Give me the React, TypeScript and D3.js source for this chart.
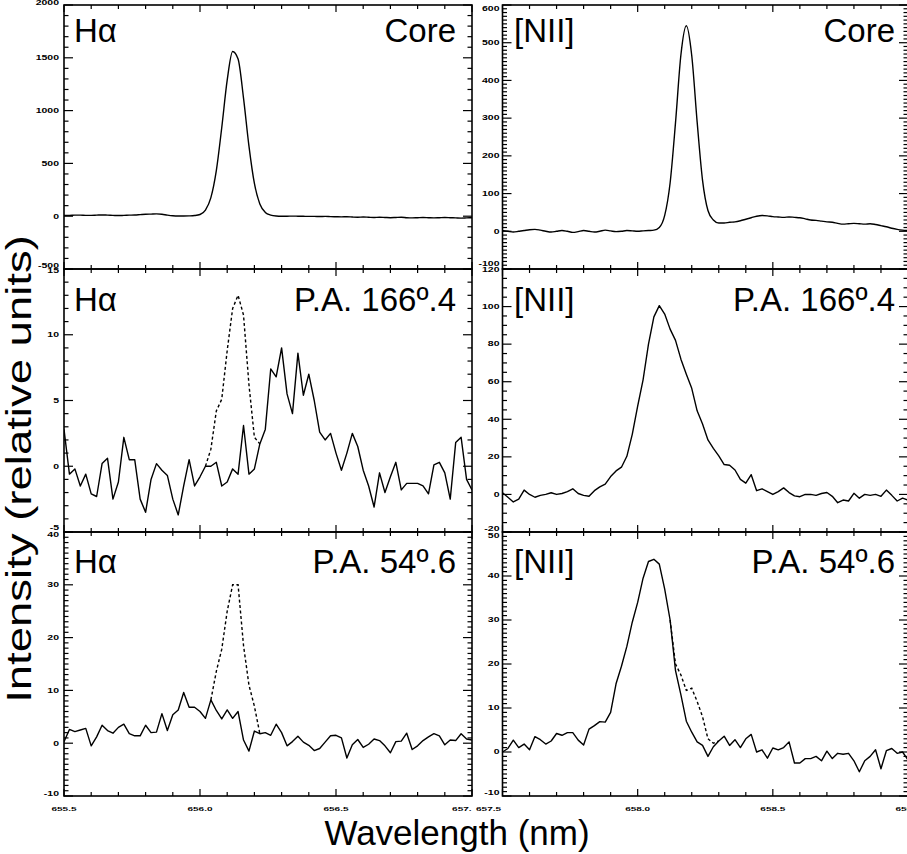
import React from "react";
import * as d3 from "d3";

// ---------------- DATA ----------------
const wlStep = 0.02;
const haWlStart = 655.5;
const niiWlStart = 657.5;

const haCore = [
  8, 8, 10, 10, 8, 8, 10, 12, 10, 8,
  6, 8, 10, 12, 15, 18, 20, 22, 18, 10,
  4, 2, 2, 3, 6, 16, 58, 176, 432, 840,
  1288, 1560, 1488, 1118, 664, 310, 116, 36, 10, 2,
  0, 0, 1, 0, -1, -2, -2, -3, -2, -4,
  -5, -6, -5, -8, -10, -8, -10, -12, -10, -12,
  -14, -12, -10, -14, -16, -14, -12, -14, -16, -14,
  -12, -14, -16, -18, -16, -14,
];

const haPA166 = [
  2.8, -0.6, -0.2, -1.5, -0.6, -2.1, -2.3, 0.2, 0.6, -2.5,
  -1.2, 2.2, 0.5, 0.5, -2.5, -3.5, -1.0, 0.2, -0.3, -0.7,
  -2.5, -3.7, -1.5, 0.5, -1.5, -0.8, 0.0, 0.0, 0.3, -1.5,
  -1.2, -0.2, -0.6, 3.1, -0.6, -0.2, 1.7, 2.8, 7.4, 6.8,
  9.0, 5.5, 4.0, 8.6, 5.4, 7.0, 5.0, 2.6, 2.0, 2.5,
  1.0, -0.3, 1.0, 2.5, 1.5, -0.3, -1.5, -3.1, -0.5, -2.0,
  -0.8, 0.3, -1.8, -1.3, -1.3, -1.3, -1.5, -2.1, 0.1, 0.3,
  -0.5, -2.5, 1.8, 2.2, -1.0, -1.8,
];
const haPA166DashStart = 656.02;
const haPA166Dash = [0.0, 1.3, 4.2, 5.1, 8.8, 12.0, 13.0, 11.5, 6.2, 2.2, 1.7];

const haPA54 = [
  0.3, 2.6, 2.2, 2.5, 2.8, -0.5, 1.2, 3.4, 2.4, 1.9,
  3.0, 3.6, 1.8, 1.4, 1.4, 3.4, 2.0, 2.1, 5.6, 2.4,
  5.4, 6.3, 9.6, 6.8, 6.8, 6.0, 4.7, 8.2, 6.2, 4.6,
  6.3, 4.7, 6.0, 0.6, -1.5, 2.3, 1.8, 2.0, 1.5, 3.6,
  2.0, -0.5, 0.3, 1.3, 0.2, -0.4, -1.4, -1.0, 0.2, 1.4,
  1.5, 1.0, -2.8, -0.3, 0.7, -0.8, -0.2, 0.8, 0.5, -0.5,
  -1.8, 0.3, 0.4, 1.9, -1.2, -0.5, 0.5, 1.2, 1.8, 1.4,
  -0.3, 0.6, 0.5, 1.8, 0.8, 0.6,
];
const haPA54DashStart = 656.04;
const haPA54Dash = [8.2, 13.6, 17.8, 25.0, 30.0, 30.0, 18.5, 11.0, 7.0, 1.8];

const niiCore = [
  2, 0, -2, 0, 2, 4, 5, 3, 0, -2,
  0, 2, 0, -3, -1, 2, 0, -2, 0, 3,
  1, -1, 0, 2, 1, 0, 1, 2, 3, 10,
  42, 128, 288, 468, 545, 466, 290, 135, 55, 30,
  22, 22, 24, 25, 28, 32, 36, 40, 42, 41,
  39, 38, 37, 38, 37, 36, 33, 30, 29, 27,
  25, 24, 21, 19, 20, 21, 20, 19, 20, 18,
  15, 12, 8, 5, 3, 2,
];

const niiPA166 = [
  0.9, -1.5, -4.0, -2.5, 2.3, 0.0, -1.5, -0.5, 0.0, 0.9,
  0.0, 0.5, 1.5, 3.0, 0.5, -0.5, -1.0, 2.0, 4.0, 5.5,
  9.5, 12.5, 14.5, 20.3, 32.0, 47.0, 61.0, 80.0, 94.5, 100.5,
  96.0, 88.0, 82.0, 72.0, 64.0, 56.5, 44.5, 37.5, 29.0, 24.5,
  20.5, 15.9, 15.5, 13.0, 8.0, 6.0, 10.5, 2.0, 3.0, 1.5,
  0.0, 1.5, 3.5, 1.0, -0.8, -1.2, 0.0, 0.0, -0.5, 0.5,
  1.0, -1.0, -4.4, -3.0, -3.5, 0.6, -2.0, 0.0, -0.5, 0.0,
  -1.0, 2.3, -0.5, -3.5, -2.0, -3.0,
];

const niiPA54 = [
  0.0, 0.8, 2.7, 1.0, 1.8, 0.5, 3.5, 2.8, 1.8, 2.5,
  4.2, 3.8, 4.4, 4.4, 2.7, 1.6, 5.2, 6.0, 6.9, 6.8,
  9.0, 15.5, 19.5, 24.0, 29.5, 34.0, 39.5, 43.3, 43.8, 42.7,
  37.0, 30.0, 18.5, 13.0, 7.0, 4.5, 2.3, 1.5, -1.0, 1.2,
  2.5, 3.6, 1.5, 2.8, 1.0, 3.0, 4.0, 0.0, 0.5, -1.4,
  0.9, 0.5, 1.0, 2.3, -2.5, -2.5, -1.5, -1.5, -1.0, -2.0,
  0.2, -1.5, -0.3, -0.5, -0.3, -2.0, -4.5, -2.0, -1.0, 0.5,
  -3.8, 0.3, 0.8, -0.3, 0.0, -1.8,
];
const niiPA54DashStart = 658.12;
const niiPA54Dash = [30.0, 20.0, 17.5, 14.0, 14.5, 11.5, 8.0, 3.0, 2.0, 2.5];

// axis tick values / labels
const haCoreYTicks = [-500, 0, 500, 1000, 1500, 2000];
const haPA166YTicks = [-5, 0, 5, 10, 15];
const haPA54YTicks = [-10, 0, 10, 20, 30, 40];
const niiCoreYTicks = [-100, 0, 100, 200, 300, 400, 500, 600];
const niiPA166YTicks = [-20, 0, 20, 40, 60, 80, 100, 120];
const niiPA54YTicks = [-10, 0, 10, 20, 30, 40, 50];
const haXTicks = [655.5, 656.0, 656.5, 657.0];
const haXTickLabels = ["655.5", "656.0", "656.5", "657."];
const niiXTicks = [657.5, 658.0, 658.5, 659.0];
const niiXTickLabels = ["657.5", "658.0", "658.5", "659.0"];

const lineLabels = ["Hα", "[NII]"];
const regionLabels = ["Core", "P.A. 166º.4", "P.A. 54º.6"];
const xTitle = "Wavelength (nm)";
const yTitle = "Intensity (relative units)";

// ---------------- LAYOUT ----------------
const W = 907;
const H = 854;
const COLS = [
  { x0: 64, x1: 472, domain: [655.5, 657.0], start: haWlStart, xTicks: haXTicks, xLabels: haXTickLabels, textL: 74, textR: 456 },
  { x0: 502.5, x1: 908, domain: [657.5, 659.0], start: niiWlStart, xTicks: niiXTicks, xLabels: niiXTickLabels, textL: 514, textR: 895 },
];
const ROWS = [
  { y0: 5, y1: 269, base: 42 },
  { y0: 269, y1: 532, base: 311 },
  { y0: 532, y1: 796, base: 573 },
];

type PanelCfg = {
  col: number;
  row: number;
  values: number[];
  dash?: number[];
  dashStart?: number;
  yTicks: number[];
  yMinor: number;
  smooth: boolean;
  topDy: number;
  botDy: number;
};

const PANELS: PanelCfg[] = [
  { col: 0, row: 0, values: haCore, yTicks: haCoreYTicks, yMinor: 100, smooth: true, topDy: -2.5, botDy: -3 },
  { col: 0, row: 1, values: haPA166, dash: haPA166Dash, dashStart: haPA166DashStart, yTicks: haPA166YTicks, yMinor: 1, smooth: false, topDy: 2, botDy: -4 },
  { col: 0, row: 2, values: haPA54, dash: haPA54Dash, dashStart: haPA54DashStart, yTicks: haPA54YTicks, yMinor: 1, smooth: false, topDy: 3, botDy: -2 },
  { col: 1, row: 0, values: niiCore, yTicks: niiCoreYTicks, yMinor: 10, smooth: true, topDy: 4, botDy: -5 },
  { col: 1, row: 1, values: niiPA166, yTicks: niiPA166YTicks, yMinor: 5, smooth: false, topDy: 1, botDy: -3 },
  { col: 1, row: 2, values: niiPA54, dash: niiPA54Dash, dashStart: niiPA54DashStart, yTicks: niiPA54YTicks, yMinor: 1, smooth: false, topDy: 3.5, botDy: -3 },
];

const FONT = "'Liberation Sans', Arial, Helvetica, sans-serif";

function Panel({ p, idx }: { p: PanelCfg; idx: number }) {
  const c = COLS[p.col];
  const r = ROWS[p.row];
  const x = d3.scaleLinear().domain(c.domain).range([c.x0, c.x1]);
  const yd = [p.yTicks[0], p.yTicks[p.yTicks.length - 1]];
  const y = d3.scaleLinear().domain(yd).range([r.y1, r.y0]);
  const curve = p.smooth ? d3.curveMonotoneX : d3.curveLinear;
  const line = d3
    .line<number>()
    .x((_, i) => x(c.start + i * wlStep))
    .y((d) => y(d))
    .curve(curve);
  const dashLine = d3
    .line<number>()
    .x((_, i) => x((p.dashStart ?? 0) + i * wlStep))
    .y((d) => y(d))
    .curve(curve);

  const xMinor = d3.range(c.domain[0], c.domain[1] + 1e-6, 0.1);
  const yMinorVals = d3.range(yd[0], yd[1] + 1e-6, p.yMinor);
  const clipId = `clip${idx}`;
  const yLabelX = p.col === 0 ? c.x0 - 5 : c.x0 - 3;

  return (
    <g>
      <defs>
        <clipPath id={clipId}>
          <rect x={c.x0} y={r.y0} width={c.x1 - c.x0} height={r.y1 - r.y0} />
        </clipPath>
      </defs>
      <g clipPath={`url(#${clipId})`}>
        <path d={line(p.values) || ""} fill="none" stroke="#000" strokeWidth={1.4} strokeLinejoin="round" />
        {p.dash && (
          <path d={dashLine(p.dash) || ""} fill="none" stroke="#000" strokeWidth={1.4} strokeDasharray="3,2.5" />
        )}
      </g>
      {xMinor.map((v, i) => {
        const q = (v - c.domain[0]) / 0.5;
        const major = Math.abs(q - Math.round(q)) < 1e-6;
        const len = major ? 7 : 4;
        const xx = x(v);
        return (
          <g key={`xt${i}`}>
            <line x1={xx} x2={xx} y1={r.y1} y2={r.y1 - len} stroke="#000" strokeWidth={1.2} />
            <line x1={xx} x2={xx} y1={r.y0} y2={r.y0 + len} stroke="#000" strokeWidth={1.2} />
          </g>
        );
      })}
      {yMinorVals.map((v, i) => {
        const major = p.yTicks.some((t) => Math.abs(t - v) < 1e-6);
        const len = major ? 9 : 4.5;
        const yy = y(v);
        return (
          <g key={`yt${i}`}>
            <line x1={c.x0} x2={c.x0 + len} y1={yy} y2={yy} stroke="#000" strokeWidth={1.2} />
            <line x1={c.x1} x2={c.x1 - len} y1={yy} y2={yy} stroke="#000" strokeWidth={1.2} />
          </g>
        );
      })}
      <rect x={c.x0} y={r.y0} width={c.x1 - c.x0} height={r.y1 - r.y0} fill="none" stroke="#000" strokeWidth={1.6} />
      {p.yTicks.map((t, i) => {
        let yy = y(t);
        if (i === 0) yy += p.botDy;
        if (i === p.yTicks.length - 1) yy += p.topDy;
        return (
          <text
            key={`yl${i}`}
            transform={`translate(${yLabelX},${yy}) scale(1,0.62)`}
            textAnchor="end"
            dy="0.36em"
            fontSize={10.5}
            fontWeight="bold"
            fontFamily={FONT}
          >
            {String(t)}
          </text>
        );
      })}
      <text x={c.textL} y={r.base} fontSize={33} fontFamily={FONT}>
        {lineLabels[p.col]}
      </text>
      <text x={c.textR} y={r.base} fontSize={33} fontFamily={FONT} textAnchor="end">
        {regionLabels[p.row]}
      </text>
      {p.row === 2 &&
        c.xTicks.map((t, i) => {
          let anchor: "middle" | "end" = "middle";
          let xx = x(t);
          if (p.col === 0 && i === c.xTicks.length - 1) {
            anchor = "end";
            xx -= 0.5;
          }
          if (p.col === 1 && i === 0) {
            anchor = "end";
            xx -= 1.5;
          }
          return (
            <text
              key={`xl${i}`}
              transform={`translate(${xx},${808.5}) scale(1,0.62)`}
              textAnchor={anchor}
              dy="0.36em"
              fontSize={10}
              fontWeight="bold"
              fontFamily={FONT}
            >
              {c.xLabels[i]}
            </text>
          );
        })}
    </g>
  );
}

export default function App() {
  return (
    <svg
      width={W}
      height={H}
      viewBox={`0 0 ${W} ${H}`}
      style={{ position: "absolute", left: 0, top: 0, background: "#fff", display: "block" }}
    >
      <rect x={0} y={0} width={W} height={H} fill="#fff" />
      {PANELS.map((p, i) => (
        <Panel key={i} p={p} idx={i} />
      ))}
      <text x={457} y={845} textAnchor="middle" fontSize={35} fontFamily={FONT}>
        {xTitle}
      </text>
      <text
        transform={`translate(31,469) rotate(-90) scale(1.3,1)`}
        textAnchor="middle"
        fontSize={35}
        fontFamily={FONT}
      >
        {yTitle}
      </text>
    </svg>
  );
}
